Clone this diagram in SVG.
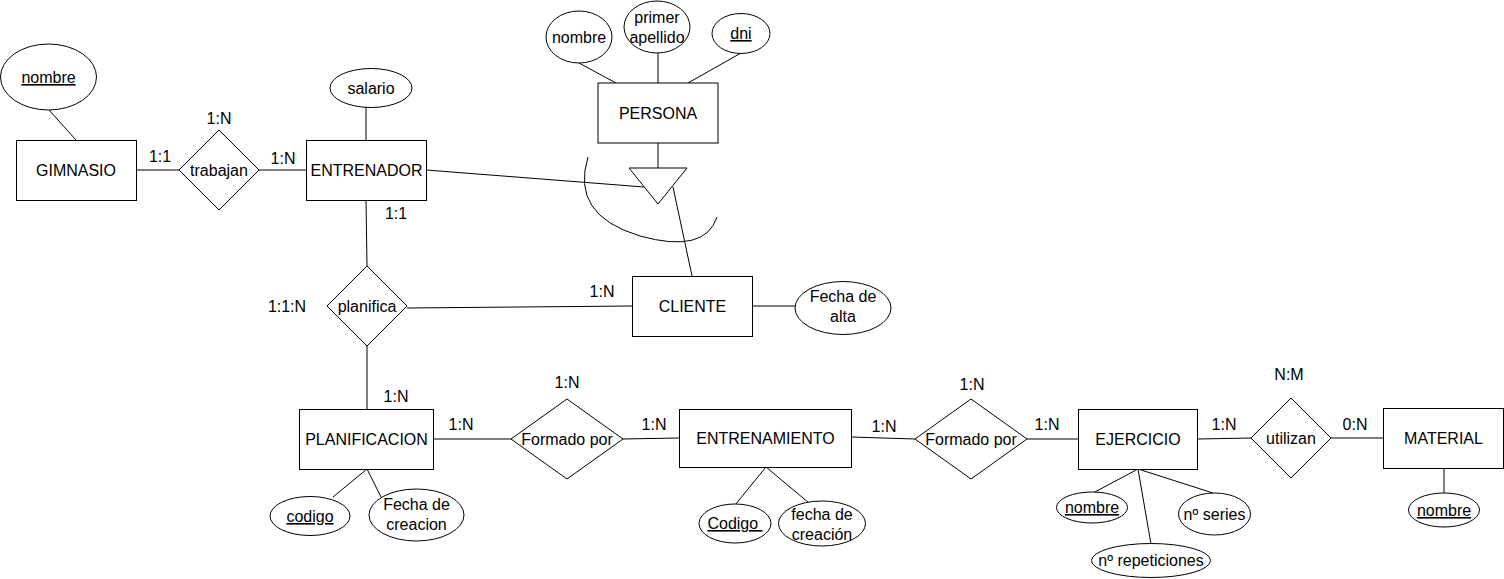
<svg xmlns="http://www.w3.org/2000/svg" width="1504" height="579" viewBox="0 0 1504 579">
<style>
  .shape { fill: #ffffff; stroke: #000000; stroke-width: 1; }
  .line { fill: none; stroke: #000000; stroke-width: 1; }
  text { font-family: "Liberation Sans", Arial, sans-serif; font-size: 16px; fill: #000000; text-anchor: middle; }
  .key { text-decoration: underline; }
</style>
<rect x="0" y="0" width="1504" height="579" fill="#ffffff"/>

<g id="connectors">
  <line class="line" x1="49" y1="110" x2="76" y2="140"/>
  <line class="line" x1="136" y1="170" x2="179" y2="170"/>
  <line class="line" x1="259" y1="170" x2="306" y2="170"/>
  <line class="line" x1="366" y1="107" x2="366" y2="140"/>
  <line class="line" x1="426" y1="170" x2="644" y2="187"/>
  <line class="line" x1="579" y1="63" x2="616" y2="83"/>
  <line class="line" x1="658" y1="53" x2="658" y2="83"/>
  <line class="line" x1="741" y1="53" x2="688" y2="83"/>
  <line class="line" x1="658" y1="143" x2="658" y2="168"/>
  <line class="line" x1="673" y1="187" x2="692" y2="276"/>
  <path class="line" d="M588,157 Q570,215 640,236 Q705,254 717,217"/>
  <line class="line" x1="366" y1="200" x2="367" y2="266"/>
  <line class="line" x1="407" y1="308" x2="632" y2="306"/>
  <line class="line" x1="752" y1="306" x2="795" y2="306"/>
  <line class="line" x1="367" y1="346" x2="367" y2="409"/>
  <line class="line" x1="367" y1="469" x2="333" y2="497"/>
  <line class="line" x1="367" y1="469" x2="381" y2="497"/>
  <line class="line" x1="433" y1="439" x2="511" y2="439"/>
  <line class="line" x1="623" y1="439" x2="679" y2="438"/>
  <line class="line" x1="766" y1="467" x2="735" y2="505"/>
  <line class="line" x1="766" y1="467" x2="809" y2="503"/>
  <line class="line" x1="851" y1="437" x2="915" y2="439"/>
  <line class="line" x1="1027" y1="439" x2="1078" y2="439"/>
  <line class="line" x1="1138" y1="469" x2="1093" y2="493"/>
  <line class="line" x1="1138" y1="469" x2="1151" y2="544"/>
  <line class="line" x1="1138" y1="469" x2="1213" y2="493"/>
  <line class="line" x1="1198" y1="439" x2="1251" y2="438"/>
  <line class="line" x1="1331" y1="438" x2="1384" y2="438"/>
  <line class="line" x1="1444" y1="468" x2="1444" y2="493"/>
</g>

<g id="gimnasio">
  <rect class="shape" x="16.5" y="140.5" width="120" height="60"/>
  <text x="76" y="176">GIMNASIO</text>
</g>
<g id="gimnasio-nombre">
  <ellipse class="shape" cx="48.5" cy="77" rx="48" ry="33"/>
  <text class="key" x="48.5" y="83">nombre</text>
</g>
<g id="trabajan">
  <polygon class="shape" points="219,130 259,170 219,210 179,170"/>
  <text x="219" y="176">trabajan</text>
</g>
<g id="entrenador">
  <rect class="shape" x="306.5" y="140.5" width="120" height="60"/>
  <text x="366.5" y="176">ENTRENADOR</text>
</g>
<g id="salario">
  <ellipse class="shape" cx="371" cy="88" rx="41" ry="19.5"/>
  <text x="371" y="94">salario</text>
</g>
<g id="persona">
  <rect class="shape" x="598" y="83" width="120" height="60"/>
  <text x="658" y="119">PERSONA</text>
</g>
<g id="persona-nombre">
  <ellipse class="shape" cx="579" cy="37" rx="33" ry="26"/>
  <text x="579" y="43">nombre</text>
</g>
<g id="persona-apellido">
  <ellipse class="shape" cx="657" cy="27" rx="33" ry="26"/>
  <text x="657" y="23">primer</text>
  <text x="657" y="43">apellido</text>
</g>
<g id="persona-dni">
  <ellipse class="shape" cx="741" cy="33.5" rx="29" ry="20"/>
  <text class="key" x="741" y="39">dni</text>
</g>
<g id="especializacion">
  <polygon class="shape" points="629,168 687,168 658,204"/>
</g>
<g id="cliente">
  <rect class="shape" x="632.5" y="276.5" width="120" height="60"/>
  <text x="692.5" y="312">CLIENTE</text>
</g>
<g id="fecha-alta">
  <ellipse class="shape" cx="843" cy="308" rx="48" ry="26.5"/>
  <text x="843" y="302">Fecha de</text>
  <text x="843" y="322">alta</text>
</g>
<g id="planifica">
  <polygon class="shape" points="367,266 407,306 367,346 327,306"/>
  <text x="367" y="312">planifica</text>
</g>
<g id="planificacion">
  <rect class="shape" x="299.5" y="409.5" width="134" height="60"/>
  <text x="366.5" y="445">PLANIFICACION</text>
</g>
<g id="planificacion-codigo">
  <ellipse class="shape" cx="310" cy="516" rx="40" ry="19.5"/>
  <text class="key" x="310" y="522">codigo</text>
</g>
<g id="planificacion-fecha">
  <ellipse class="shape" cx="416.5" cy="515" rx="47.5" ry="26"/>
  <text x="416.5" y="510">Fecha de</text>
  <text x="416.5" y="530">creacion</text>
</g>
<g id="formado-por-1">
  <polygon class="shape" points="567,399 623,439 567,479 511,439"/>
  <text x="567" y="445">Formado por</text>
</g>
<g id="entrenamiento">
  <rect class="shape" x="679.5" y="409.5" width="172" height="58"/>
  <text x="765.5" y="444">ENTRENAMIENTO</text>
</g>
<g id="entrenamiento-codigo">
  <ellipse class="shape" cx="735" cy="523.5" rx="36" ry="19.5"/>
  <text class="key" x="735" y="529" xml:space="preserve">Codigo </text>
</g>
<g id="entrenamiento-fecha">
  <ellipse class="shape" cx="822" cy="523.5" rx="43.5" ry="22.5"/>
  <text x="822" y="520">fecha de</text>
  <text x="822" y="540">creación</text>
</g>
<g id="formado-por-2">
  <polygon class="shape" points="971,399 1027,439 971,479 915,439"/>
  <text x="971" y="445">Formado por</text>
</g>
<g id="ejercicio">
  <rect class="shape" x="1078.5" y="409.5" width="119" height="60"/>
  <text x="1138" y="445">EJERCICIO</text>
</g>
<g id="ejercicio-nombre">
  <ellipse class="shape" cx="1092" cy="507.5" rx="35.5" ry="15.5"/>
  <text class="key" x="1092" y="513">nombre</text>
</g>
<g id="ejercicio-series">
  <ellipse class="shape" cx="1214.5" cy="514" rx="36" ry="21"/>
  <text x="1214.5" y="520">nº series</text>
</g>
<g id="ejercicio-repeticiones">
  <ellipse class="shape" cx="1151" cy="560.5" rx="59.5" ry="17"/>
  <text x="1151" y="566">nº repeticiones</text>
</g>
<g id="utilizan">
  <polygon class="shape" points="1291,398 1331,438 1291,478 1251,438"/>
  <text x="1291" y="444">utilizan</text>
</g>
<g id="material">
  <rect class="shape" x="1383.5" y="408.5" width="120" height="60"/>
  <text x="1443.5" y="444">MATERIAL</text>
</g>
<g id="material-nombre">
  <ellipse class="shape" cx="1444" cy="510" rx="35.5" ry="17"/>
  <text class="key" x="1444" y="516">nombre</text>
</g>

<g id="cardinalities">
  <text x="219" y="124">1:N</text>
  <text x="160" y="162">1:1</text>
  <text x="283" y="164">1:N</text>
  <text x="396" y="219">1:1</text>
  <text x="287" y="312">1:1:N</text>
  <text x="602" y="297">1:N</text>
  <text x="396" y="402">1:N</text>
  <text x="461" y="430">1:N</text>
  <text x="567" y="388">1:N</text>
  <text x="654" y="430">1:N</text>
  <text x="884" y="432">1:N</text>
  <text x="972" y="390">1:N</text>
  <text x="1047" y="430">1:N</text>
  <text x="1224" y="430">1:N</text>
  <text x="1289" y="380">N:M</text>
  <text x="1355" y="430">0:N</text>
</g>
</svg>
